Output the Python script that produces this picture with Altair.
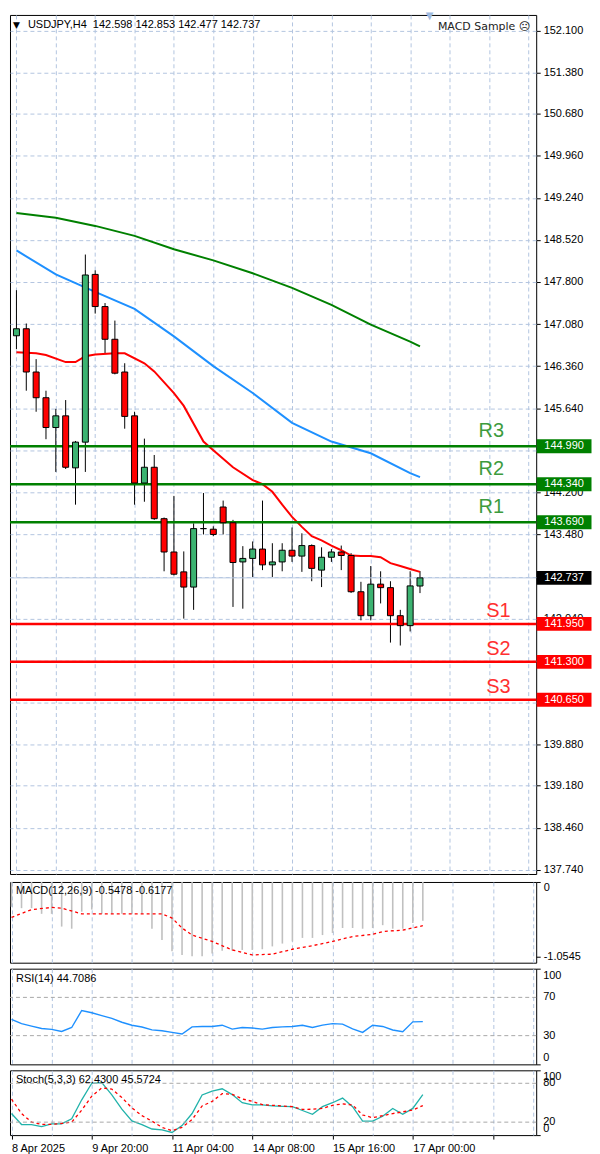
import altair as alt
import pandas as pd
import numpy as np

# ---------------- data ----------------
candle_idx = list(range(42))
open_p = [146.88, 147.00, 146.26, 145.82, 145.31, 145.51, 144.62, 145.06, 147.93, 147.38,
          146.82, 146.26, 145.51, 144.36, 144.63, 143.75, 143.18, 142.84, 142.58, 143.58,
          143.57, 143.95, 143.68, 143.01, 143.07, 143.23, 142.96, 143.01, 143.21, 143.11,
          143.29, 142.87, 143.09, 143.18, 143.12, 142.50, 142.09, 142.63, 142.57, 142.09,
          141.92, 142.598]
high_p = [147.66, 147.09, 146.48, 145.94, 145.63, 145.78, 145.08, 148.27, 148.00, 147.44,
          147.14, 146.41, 145.58, 145.12, 144.84, 143.77, 144.14, 143.19, 143.67, 144.19,
          143.62, 144.06, 143.73, 143.28, 143.36, 144.06, 143.33, 143.33, 143.60, 143.50,
          143.31, 143.26, 143.23, 143.29, 143.16, 142.67, 142.94, 142.85, 142.68, 142.19,
          142.85, 142.853]
low_p = [146.65, 145.94, 145.58, 145.11, 144.55, 144.60, 143.99, 144.55, 147.26, 146.58,
         146.22, 145.29, 143.99, 144.04, 143.73, 142.85, 142.78, 142.04, 142.19, 143.48,
         143.45, 143.48, 142.24, 142.21, 142.75, 142.87, 142.75, 142.85, 143.01, 142.84,
         142.68, 142.58, 143.01, 142.87, 142.48, 142.01, 142.01, 142.30, 141.63, 141.58,
         141.82, 142.477]
close_p = [147.00, 146.26, 145.82, 145.31, 145.51, 144.63, 145.06, 147.92, 147.38, 146.82,
           146.24, 145.50, 144.36, 144.63, 143.75, 143.18, 142.80, 142.58, 143.58, 143.58,
           143.48, 143.68, 143.00, 143.07, 143.23, 142.96, 143.01, 143.21, 143.11, 143.29,
           142.90, 143.09, 143.18, 143.12, 142.50, 142.09, 142.63, 142.57, 142.09, 141.92,
           142.60, 142.737]

ma_slow_idx = [0, 4, 8, 12, 16, 20, 24, 28, 32, 36, 40, 41]
ma_slow = [148.98, 148.90, 148.76, 148.59, 148.36, 148.17, 147.95, 147.70, 147.41, 147.07, 146.78, 146.70]
ma_mid_idx = [0, 4, 8, 12, 16, 20, 24, 28, 32, 36, 40, 41]
ma_mid = [148.34, 147.93, 147.63, 147.34, 146.87, 146.36, 145.90, 145.39, 145.07, 144.87, 144.53, 144.46]
ma_fast_idx = [0, 2, 3, 5, 6, 7, 8, 10, 11, 13, 14, 16, 17, 19, 20, 22, 24, 25, 26, 27, 28, 29,
               30, 31, 32, 33, 34, 35, 36, 37, 38, 39, 40, 41]
ma_fast = [146.60, 146.58, 146.55, 146.43, 146.43, 146.53, 146.56, 146.58, 146.58, 146.41, 146.27,
           145.90, 145.68, 145.07, 144.92, 144.63, 144.41, 144.34, 144.21, 143.99, 143.78, 143.61,
           143.45, 143.38, 143.29, 143.21, 143.12, 143.11, 143.11, 143.09, 142.99, 142.94, 142.89, 142.84]

res_names = ["R3", "R2", "R1"]
res_values = [144.990, 144.340, 143.690]
sup_names = ["S1", "S2", "S3"]
sup_values = [141.950, 141.300, 140.650]
last_price = [142.737]

price_ticks = [152.100, 151.380, 150.680, 149.960, 149.240, 148.520, 147.800, 147.080, 146.360,
               145.640, 144.920, 144.200, 143.480, 142.760, 142.040, 141.320, 140.600, 139.880,
               139.180, 138.460, 137.740]
hidden_price_labels = [144.920, 142.760, 141.320, 140.600]

macd_hist = [-0.35, -0.37, -0.37, -0.45, -0.45, -0.63, -0.66, -0.42, -0.39, -0.45,
             -0.45, -0.45, -0.45, -0.45, -0.66, -0.82, -0.98, -1.03, -1.05, -1.05,
             -1.01, -0.97, -0.97, -0.96, -0.96, -0.95, -0.91, -0.87, -0.84, -0.79,
             -0.79, -0.75, -0.72, -0.65, -0.65, -0.66, -0.65, -0.61, -0.66, -0.66,
             -0.58, -0.5478]
macd_sig_idx = [0, 2, 4, 5, 7, 9, 12, 15, 16, 17, 18, 20, 22, 24, 26, 28, 30, 32, 34, 36, 37, 39, 41]
macd_sig = [-0.50, -0.39, -0.36, -0.37, -0.45, -0.45, -0.45, -0.45, -0.51, -0.65, -0.75, -0.84,
            -0.96, -1.03, -1.02, -0.95, -0.90, -0.84, -0.77, -0.74, -0.70, -0.68, -0.6177]

rsi_vals = [47.1, 42.5, 40.0, 37.5, 36.5, 34.4, 38.5, 56.3, 53.9, 51.0,
            48.1, 44.0, 40.9, 39.0, 36.0, 35.1, 33.4, 31.7, 39.2, 39.6,
            39.6, 40.9, 36.8, 38.5, 38.0, 36.8, 38.5, 39.2, 39.6, 40.9,
            38.5, 41.0, 42.6, 42.0, 37.0, 33.4, 40.9, 39.6, 35.9, 34.1,
            44.4, 44.7086]
rsi_levels = [30, 70]
rsi_label_vals = [100, 70, 30, 0]

stoch_main = [33.3, 16.3, 16.3, 13.1, 17.3, 17.3, 25.3, 54.5, 80.0, 81.0,
              62.0, 40.0, 22.0, 16.3, 9.4, 8.0, 4.1, 14.7, 33.3, 62.0,
              68.0, 71.5, 62.5, 50.0, 46.6, 46.6, 45.0, 44.5, 43.9, 38.0,
              32.2, 43.9, 50.0, 57.2, 43.9, 21.6, 21.6, 29.0, 41.2, 32.2,
              41.2, 62.43]
stoch_sig = [55.6, 33.3, 20.0, 16.5, 16.5, 18.0, 20.0, 38.6, 60.0, 73.0,
             71.0, 58.0, 42.0, 30.0, 21.6, 12.0, 6.7, 12.0, 24.0, 45.0,
             52.0, 64.0, 63.0, 56.0, 52.0, 47.0, 46.0, 45.0, 43.9, 39.6,
             40.0, 41.2, 46.0, 48.1, 46.6, 31.0, 26.9, 30.0, 33.3, 35.9,
             38.6, 45.57]
stoch_levels = [20, 80]
stoch_label_vals = [100, 80, 20, 0]

grid_idx = list(range(0, 53, 4))
time_tick_idx = [0, 8, 16, 24, 32, 40]
time_labels = ["8 Apr 2025", "9 Apr 20:00", "11 Apr 04:00", "14 Apr 08:00", "15 Apr 16:00", "17 Apr 00:00"]

header_text = "USDJPY,H4\u00a0\u00a0142.598 142.853 142.477 142.737"
macd_title = "MACD(12,26,9) -0.5478 -0.6177"
rsi_title = "RSI(14) 44.7086"
stoch_title = "Stoch(5,3,3) 62.4300 45.5724"

# ---------------- styling ----------------
FONT = "Liberation Sans"
GRID = "#b3c5e0"
LEVEL_GRID = "#a8a8a8"
W = 528
H_MAIN = 862
H_MACD = 81
H_RSI = 96
H_STO = 65

xs = alt.Scale(domain=[-0.15, 52.3], nice=False, zero=False)
ys_main = alt.Scale(domain=[137.67, 152.37], nice=False, zero=False)
ys_pct = alt.Scale(domain=[0, 100], nice=False, zero=False)


def x_grid_axis():
    return alt.Axis(values=grid_idx, grid=True, gridDash=[4, 3], gridColor=GRID, gridWidth=1,
                    labels=False, ticks=False, domain=False, title=None)


def one(text):
    return pd.DataFrame({"t": [text]})


def title_text(text, y):
    return alt.Chart(one(text)).mark_text(align="left", baseline="middle", fontSize=11, font=FONT,
                                         color="black").encode(x=alt.value(6), y=alt.value(y), text="t:N")


# ---------------- main panel ----------------
candles = pd.DataFrame({"i": candle_idx, "o": open_p, "h": high_p, "l": low_p, "c": close_p})
candles["dir"] = np.where(candles["c"] > candles["o"], "up",
                          np.where(candles["c"] < candles["o"], "down", "flat"))

hidden_expr = "[" + ",".join(str(v) for v in hidden_price_labels) + "]"
y_main_axis = alt.Axis(orient="right", values=price_ticks,
                       labelExpr=f"indexof({hidden_expr}, datum.value) >= 0 ? '' : format(datum.value, '.3f')",
                       grid=True, gridDash=[4, 3], gridColor=GRID, tickSize=4, tickColor="black",
                       domain=False, labelPadding=3, labelColor="black", labelFont=FONT,
                       labelFontSize=11, labelOverlap=False, labelFlush=False, title=None)

wicks = alt.Chart(candles).mark_rule(color="black", strokeWidth=1).encode(
    x=alt.X("i:Q", scale=xs, axis=x_grid_axis()),
    y=alt.Y("l:Q", scale=ys_main, axis=y_main_axis),
    y2="h:Q",
)
bodies = alt.Chart(candles).mark_bar(size=6, stroke="black", strokeWidth=1).encode(
    x=alt.X("i:Q", scale=xs),
    y=alt.Y("o:Q", scale=ys_main),
    y2="c:Q",
    color=alt.Color("dir:N", scale=alt.Scale(domain=["up", "down", "flat"],
                                             range=["#3cb371", "#ff0000", "#000000"]), legend=None),
)


def ma_line(idx, vals, color):
    df = pd.DataFrame({"i": idx, "v": vals})
    return alt.Chart(df).mark_line(color=color, strokeWidth=2).encode(
        x=alt.X("i:Q", scale=xs), y=alt.Y("v:Q", scale=ys_main))


slow = ma_line(ma_slow_idx, ma_slow, "#008000")
mid = ma_line(ma_mid_idx, ma_mid, "#1e90ff")
fast = ma_line(ma_fast_idx, ma_fast, "#ff0000")

res_df = pd.DataFrame({"name": res_names, "v": res_values})
sup_df = pd.DataFrame({"name": sup_names, "v": sup_values})
last_df = pd.DataFrame({"v": last_price})

last_rule = alt.Chart(last_df).mark_rule(color="#bccbe3", strokeWidth=1).encode(
    y=alt.Y("v:Q", scale=ys_main))
res_rules = alt.Chart(res_df).mark_rule(color="#008000", strokeWidth=2.5).encode(
    y=alt.Y("v:Q", scale=ys_main))
sup_rules = alt.Chart(sup_df).mark_rule(color="#ff0000", strokeWidth=2.5).encode(
    y=alt.Y("v:Q", scale=ys_main))

res_text = alt.Chart(res_df).mark_text(color="#3d9b3d", fontSize=20, font=FONT, align="center",
                                       baseline="alphabetic", dy=-9).encode(
    x=alt.value(483), y=alt.Y("v:Q", scale=ys_main), text="name:N")
sup_text = alt.Chart(sup_df).mark_text(color="#ff3030", fontSize=20, font=FONT, align="center",
                                       baseline="alphabetic", dy=-7).encode(
    x=alt.value(490), y=alt.Y("v:Q", scale=ys_main), text="name:N")


def price_box(df, color):
    box = alt.Chart(df).mark_tick(orient="horizontal", size=55, thickness=14, color=color,
                                  opacity=1).encode(
        x=alt.value(W + 28), y=alt.Y("v:Q", scale=ys_main))
    txt = alt.Chart(df).mark_text(color="white", fontSize=11, font=FONT, align="center",
                                  baseline="middle").encode(
        x=alt.value(W + 28), y=alt.Y("v:Q", scale=ys_main), text=alt.Text("v:Q", format=".3f"))
    return box + txt


res_box = price_box(res_df, "#008000")
sup_box = price_box(sup_df, "#ff0000")
last_box = price_box(last_df, "#000000")

hdr_tri = alt.Chart(one("▼")).mark_text(align="left", baseline="middle", fontSize=9, font="DejaVu Sans",
                                         color="black").encode(x=alt.value(3), y=alt.value(10), text="t:N")
hdr = alt.Chart(one(header_text)).mark_text(align="left", baseline="middle", fontSize=11, font=FONT,
                                           color="black").encode(x=alt.value(18), y=alt.value(10), text="t:N")
hdr_right = alt.Chart(one("MACD Sample ☹")).mark_text(align="right", baseline="middle", fontSize=11,
                                                      font="DejaVu Sans", color="#222222").encode(
    x=alt.value(W - 6), y=alt.value(12), text="t:N")
hdr_mark = alt.Chart(one("▼")).mark_text(align="center", baseline="middle", fontSize=10,
                                          font="DejaVu Sans", color="#9fbbe0").encode(
    x=alt.value(421), y=alt.value(1), text="t:N")

main = alt.layer(wicks, last_rule, slow, mid, fast, res_rules, sup_rules, bodies,
                 res_text, sup_text, res_box, sup_box, last_box,
                 hdr_tri, hdr, hdr_right, hdr_mark).properties(width=W, height=H_MAIN)

# ---------------- MACD panel ----------------
macd_df = pd.DataFrame({"i": candle_idx, "h": macd_hist})
sig_df = pd.DataFrame({"i": macd_sig_idx, "s": macd_sig})
ys_macd = alt.Scale(domain=[-1.14, 0.0], nice=False, zero=False)
macd_axis = alt.Axis(orient="right", values=[0, -1.0545],
                     labelExpr="datum.value == 0 ? '0' : '-1.0545'", grid=False,
                     tickSize=4, tickColor="black", domain=False, labelPadding=3,
                     labelColor="black", labelFlush=True, labelOverlap=False, title=None)
hist = alt.Chart(macd_df).mark_rule(color="#c0c0c0", strokeWidth=1.6).encode(
    x=alt.X("i:Q", scale=xs, axis=x_grid_axis()),
    y=alt.Y("h:Q", scale=ys_macd, axis=macd_axis),
    y2=alt.datum(0),
)
sig = alt.Chart(sig_df).mark_line(color="#ff0000", strokeDash=[3, 3], strokeWidth=1.3).encode(
    x=alt.X("i:Q", scale=xs), y=alt.Y("s:Q", scale=ys_macd))
macd = alt.layer(hist, sig, title_text(macd_title, 9)).properties(width=W, height=H_MACD)


# ---------------- shared helpers for 0..100 panels ----------------
def pct_axis(vals):
    return alt.Axis(orient="right", values=vals, grid=False, labels=False,
                    tickSize=4, tickColor="black", domain=False, title=None)


def level_rules(levels):
    return alt.Chart(pd.DataFrame({"v": levels})).mark_rule(
        color=LEVEL_GRID, strokeDash=[4, 3], strokeWidth=1).encode(y=alt.Y("v:Q", scale=ys_pct))


def pct_labels(vals):
    df = pd.DataFrame({"v": vals, "t": [str(v) for v in vals]})
    top = alt.Chart(df[df["v"] == 100]).mark_text(align="left", baseline="top", fontSize=11, font=FONT,
                                                 color="black", dy=1).encode(
        x=alt.value(W + 7), y=alt.Y("v:Q", scale=ys_pct), text="t:N")
    bot = alt.Chart(df[df["v"] == 0]).mark_text(align="left", baseline="bottom", fontSize=11, font=FONT,
                                               color="black", dy=-1).encode(
        x=alt.value(W + 7), y=alt.Y("v:Q", scale=ys_pct), text="t:N")
    midl = alt.Chart(df[(df["v"] > 0) & (df["v"] < 100)]).mark_text(
        align="left", baseline="middle", fontSize=11, font=FONT, color="black").encode(
        x=alt.value(W + 7), y=alt.Y("v:Q", scale=ys_pct), text="t:N")
    return alt.layer(top, midl, bot)


# ---------------- RSI panel ----------------
rsi_df = pd.DataFrame({"i": candle_idx, "r": rsi_vals})
rsi_line = alt.Chart(rsi_df).mark_line(color="#1e90ff", strokeWidth=1.4).encode(
    x=alt.X("i:Q", scale=xs, axis=x_grid_axis()),
    y=alt.Y("r:Q", scale=ys_pct, axis=pct_axis(rsi_label_vals)),
)
rsi = alt.layer(rsi_line, level_rules(rsi_levels), pct_labels(rsi_label_vals),
                title_text(rsi_title, 10)).properties(width=W, height=H_RSI)

# ---------------- Stochastic panel ----------------
sto_df = pd.DataFrame({"i": candle_idx, "m": stoch_main, "s": stoch_sig})
time_expr = "".join(f"datum.value == {i} ? '{lab}' : " for i, lab in zip(time_tick_idx, time_labels)) + "''"
x_time_axis = alt.Axis(values=grid_idx, grid=True, gridDash=[4, 3], gridColor=GRID, gridWidth=1,
                       labelExpr=time_expr, labelAlign="left", labelPadding=3, labelFlush=False,
                       labelOverlap=False, labelBound=False, labelColor="black", labelFont=FONT,
                       labelFontSize=11, tickSize=4,
                       tickColor={"condition": {"test": "datum.value % 8 == 0", "value": "black"},
                                  "value": "transparent"},
                       domain=False, title=None)
sto_main = alt.Chart(sto_df).mark_line(color="#20b2aa", strokeWidth=1.3).encode(
    x=alt.X("i:Q", scale=xs, axis=x_time_axis),
    y=alt.Y("m:Q", scale=ys_pct, axis=pct_axis(stoch_label_vals)),
)
sto_sig = alt.Chart(sto_df).mark_line(color="#ff0000", strokeDash=[3, 3], strokeWidth=1.3).encode(
    x=alt.X("i:Q", scale=xs), y=alt.Y("s:Q", scale=ys_pct))
stoch = alt.layer(sto_main, sto_sig, level_rules(stoch_levels), pct_labels(stoch_label_vals),
                  title_text(stoch_title, 10)).properties(width=W, height=H_STO)

chart = alt.vconcat(main, macd, rsi, stoch, spacing=4).properties(
    padding={"left": 0, "top": 0, "right": 0, "bottom": 0}
).configure_view(stroke="#000000", strokeWidth=1).configure_axis(
    labelFont=FONT, labelFontSize=11, labelColor="black"
)

chart.save("out.html", embed_options={"renderer": "svg", "actions": False})
